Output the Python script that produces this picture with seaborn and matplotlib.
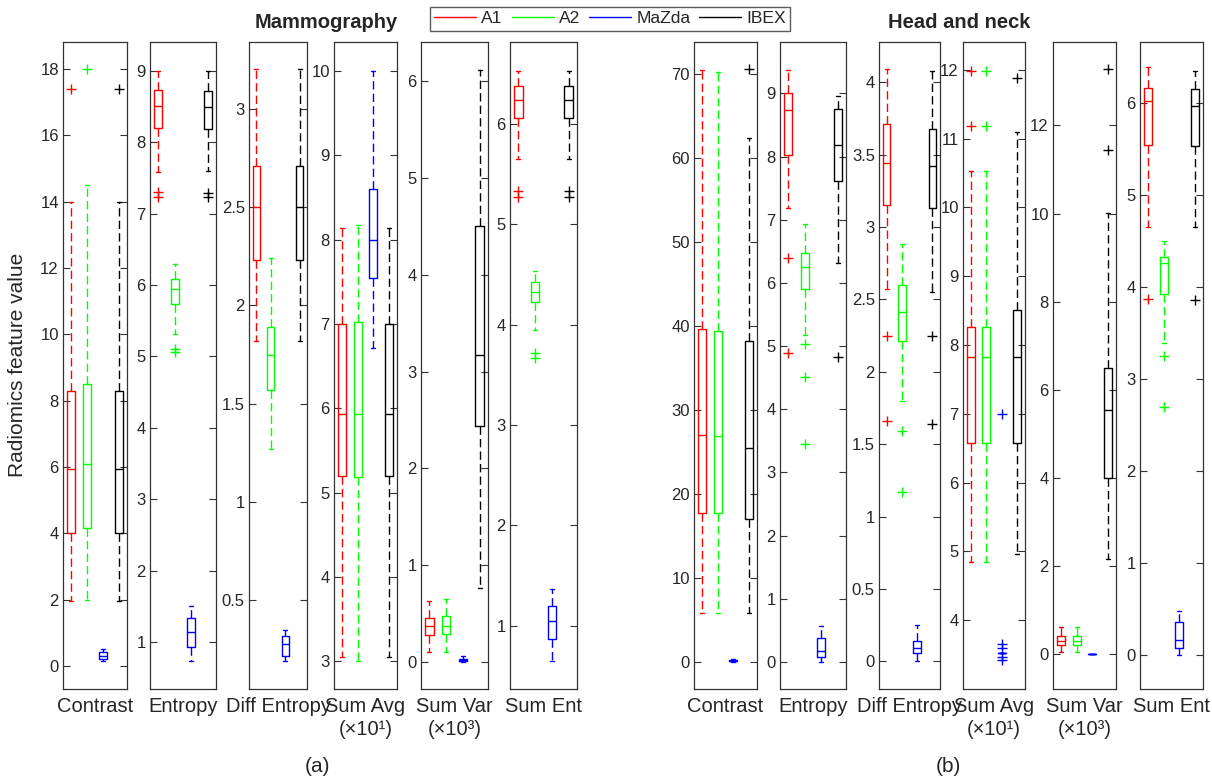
import numpy as np
import pandas as pd
import matplotlib
matplotlib.use('Agg')
import matplotlib.pyplot as plt
from matplotlib.lines import Line2D
import seaborn as sns

tools = ['A1', 'A2', 'MaZda', 'IBEX']
colors = ['#ff0000', '#00ff00', '#0000ff', '#000000']

# box stats: (whisker low, q1, median, q3, whisker high), order A1, A2, MaZda, IBEX
mam_contrast = [(1.95, 4.0, 5.95, 8.3, 14.0), (2.0, 4.15, 6.1, 8.5, 14.5),
                (0.15, 0.22, 0.3, 0.42, 0.5), (1.95, 4.0, 5.95, 8.3, 14.0)]
mam_contrast_out = [[17.4], [18.0], [], [17.4]]

mam_entropy = [(7.59, 8.2, 8.51, 8.73, 9.0), (5.31, 5.73, 5.95, 6.09, 6.29),
               (0.73, 0.93, 1.14, 1.34, 1.51), (7.6, 8.18, 8.5, 8.72, 9.0)]
mam_entropy_out = [[7.31, 7.24], [5.11, 5.06], [], [7.29, 7.23]]

mam_diffent = [(1.82, 2.23, 2.5, 2.71, 3.2), (1.27, 1.57, 1.75, 1.89, 2.24),
               (0.19, 0.22, 0.28, 0.32, 0.35), (1.82, 2.23, 2.5, 2.71, 3.2)]
mam_diffent_out = [[], [], [], []]

mam_sumavg = [(3.05, 5.2, 5.93, 7.0, 8.14), (3.0, 5.18, 5.93, 7.02, 8.17),
              (6.71, 7.55, 8.0, 8.6, 10.0), (3.05, 5.2, 5.93, 7.0, 8.14)]
mam_sumavg_out = [[], [], [], []]

mam_sumvar = [(0.1, 0.28, 0.37, 0.45, 0.63), (0.1, 0.29, 0.37, 0.47, 0.65),
              (0.0, 0.01, 0.02, 0.03, 0.06), (0.76, 2.44, 3.17, 4.51, 6.12)]
mam_sumvar_out = [[], [], [], []]

mam_sument = [(5.65, 6.06, 6.24, 6.38, 6.53), (3.95, 4.23, 4.33, 4.43, 4.54),
              (0.65, 0.87, 1.05, 1.2, 1.37), (5.65, 6.06, 6.24, 6.38, 6.53)]
mam_sument_out = [[5.33, 5.27], [3.72, 3.67], [], [5.33, 5.27]]

hn_contrast = [(5.8, 17.7, 27.0, 39.6, 70.5), (5.8, 17.7, 26.9, 39.4, 70.3),
               (0.0, 0.05, 0.1, 0.2, 0.3), (5.8, 17.0, 25.5, 38.2, 62.4)]
hn_contrast_out = [[], [], [], [70.6]]

hn_entropy = [(7.18, 8.03, 8.74, 9.0, 9.37), (5.18, 5.91, 6.26, 6.47, 6.94),
              (0.0, 0.08, 0.17, 0.38, 0.56), (6.32, 7.62, 8.18, 8.76, 8.96)]
hn_entropy_out = [[6.39, 4.89], [5.03, 4.51, 3.45], [], [4.82]]

hn_diffent = [(2.57, 3.15, 3.44, 3.71, 4.09), (1.8, 2.21, 2.41, 2.6, 2.88),
              (0.0, 0.056, 0.095, 0.14, 0.25), (2.55, 3.13, 3.42, 3.68, 4.08)]
hn_diffent_out = [[2.25, 1.66], [1.59, 1.17], [], [2.25, 1.64]]

hn_sumavg = [(4.85, 6.58, 7.82, 8.26, 10.53), (4.85, 6.58, 7.82, 8.26, 10.53),
             (3.52, 3.52, 3.52, 3.52, 3.52), (4.96, 6.58, 7.82, 8.51, 11.1)]
hn_sumavg_out = [[11.19, 11.98], [11.19, 11.98], [3.66, 3.6, 3.46, 3.42, 7.0], [11.88]]

hn_sumvar = [(0.05, 0.21, 0.31, 0.42, 0.61), (0.05, 0.2, 0.3, 0.42, 0.61),
             (0.0, 0.0, 0.0, 0.0, 0.0), (2.15, 4.0, 5.55, 6.5, 10.02)]
hn_sumvar_out = [[], [], [], [13.29, 11.44]]

hn_sument = [(4.66, 5.55, 6.02, 6.17, 6.39), (3.39, 3.93, 4.26, 4.33, 4.5),
             (0.0, 0.08, 0.16, 0.36, 0.48), (4.65, 5.54, 5.97, 6.16, 6.35)]
hn_sument_out = [[3.87], [3.25, 2.7], [], [3.86]]

xlabels = ['Contrast', 'Entropy', 'Diff Entropy', 'Sum Avg\n(×10¹)', 'Sum Var\n(×10³)', 'Sum Ent']

mam_ylims = [(-0.7, 18.83), (0.34, 9.41), (0.05, 3.34), (2.67, 10.35), (-0.28, 6.41), (0.37, 6.82)]
mam_yticks = [np.arange(0, 19, 2), np.arange(1, 10), np.arange(0.5, 3.01, 0.5),
              np.arange(3, 11), np.arange(0, 7), np.arange(1, 7)]
hn_ylims = [(-3.25, 73.85), (-0.43, 9.82), (-0.19, 4.28), (3.0, 12.41), (-0.79, 13.9), (-0.37, 6.67)]
hn_yticks = [np.arange(0, 71, 10), np.arange(0, 10), np.arange(0, 4.01, 0.5),
             np.arange(4, 13), np.arange(0, 13, 2), np.arange(0, 7)]

mam_boxes = [mam_contrast, mam_entropy, mam_diffent, mam_sumavg, mam_sumvar, mam_sument]
mam_outs = [mam_contrast_out, mam_entropy_out, mam_diffent_out, mam_sumavg_out, mam_sumvar_out, mam_sument_out]
hn_boxes = [hn_contrast, hn_entropy, hn_diffent, hn_sumavg, hn_sumvar, hn_sument]
hn_outs = [hn_contrast_out, hn_entropy_out, hn_diffent_out, hn_sumavg_out, hn_sumvar_out, hn_sument_out]

# panel left/right edges in pixels
mam_x = [(63, 127), (150, 216), (249, 307), (334, 397), (421, 488), (510, 577)]
hn_x = [(694, 757), (780, 846), (879, 940), (963, 1025), (1053, 1116), (1140, 1203)]

W, H = 1212, 780
sns.set_style('white')
plt.rcParams['font.family'] = ['Liberation Sans', 'DejaVu Sans']

fig = plt.figure(figsize=(W / 100, H / 100), dpi=100)
top, bottom = 41.7, 689


def make_df(label, box, outs):
    # expand the read five-number summaries into samples that give the same box stats
    rows = []
    for tool, (lo, q1, med, q3, hi), out in zip(tools, box, outs):
        vals = [lo] + [q1] * 20 + [med] * 20 + [q3] * 20 + [hi] + list(out)
        rows += [(label, tool, v) for v in vals]
    return pd.DataFrame(rows, columns=['feature', 'tool', 'value'])


def draw(xpix, label, box, outs, ylim, yticks):
    l, r = xpix
    ax = fig.add_axes([l / W, 1 - bottom / H, (r - l) / W, (bottom - top) / H])
    df = make_df(label, box, outs)
    sns.boxplot(data=df, x='feature', y='value', hue='tool', hue_order=tools,
                palette=colors, fill=False, width=0.8, gap=0.5, linewidth=1.0,
                whis=1.5, fliersize=7, flierprops=dict(marker='+'),
                whiskerprops=dict(linestyle=(0, (6, 3))),
                legend=False, ax=ax)
    ax.set_xlim(-0.4, 0.4)
    ax.set_ylim(*ylim)
    ax.set_yticks(yticks)
    ax.set_yticklabels([f'{t:g}' for t in yticks])
    ax.set_xticks([0])
    ax.set_xticklabels([label], linespacing=1.25)
    ax.set_xlabel('')
    ax.set_ylabel('')
    ax.tick_params(axis='y', direction='in', left=True, right=True, length=5,
                   width=0.8, color='#333333', labelsize=12, pad=3)
    ax.tick_params(axis='x', length=0, labelsize=14.5, pad=6)
    for s in ax.spines.values():
        s.set_color('#333333')
        s.set_linewidth(0.9)
        s.set_visible(True)
    return ax


for i in range(6):
    draw(mam_x[i], xlabels[i], mam_boxes[i], mam_outs[i], mam_ylims[i], mam_yticks[i])
    draw(hn_x[i], xlabels[i], hn_boxes[i], hn_outs[i], hn_ylims[i], hn_yticks[i])

fig.text(326 / W, 1 - 22 / H, 'Mammography', ha='center', va='center', fontsize=14.5, fontweight='bold')
fig.text(959 / W, 1 - 22 / H, 'Head and neck', ha='center', va='center', fontsize=14.5, fontweight='bold')
fig.text(18 / W, 1 - 365 / H, 'Radiomics feature value', rotation=90, ha='center', va='center', fontsize=15)
fig.text(318 / W, 1 - 767 / H, '(a)', ha='center', va='center', fontsize=15)
fig.text(948 / W, 1 - 767 / H, '(b)', ha='center', va='center', fontsize=15)

handles = [Line2D([], [], color=c, lw=1.0) for c in colors]
fig.legend(handles, tools, loc='center', bbox_to_anchor=(610 / W, 1 - 18.5 / H), ncol=4,
           frameon=True, fancybox=False, edgecolor='#333333', fontsize=12.6,
           handlelength=2.4, handletextpad=0.3, columnspacing=0.5, borderpad=0.25)

fig.savefig('out.png', dpi=100)
